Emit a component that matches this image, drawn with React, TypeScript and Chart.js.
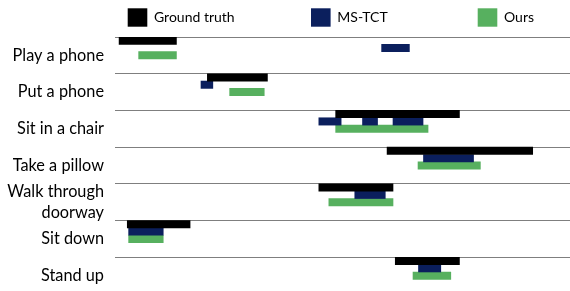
import React, { useEffect, useRef } from 'react';
import { Chart, registerables } from 'chart.js';

Chart.register(...registerables);

// ---- data ----
const categories = ['Play a phone', 'Put a phone', 'Sit in a chair', 'Take a pillow', 'Walk through doorway', 'Sit down', 'Stand up'];
const tickLabels: (string | string[])[] = ['Play a phone', 'Put a phone', 'Sit in a chair', 'Take a pillow', ['Walk through', 'doorway'], 'Sit down', 'Stand up'];
const seriesNames = ['Ground truth', 'MS-TCT', 'Ours'];
const seriesColors = ['#000000', '#0b1f5d', '#57b05f'];

// time spans (start, end) per category
const groundTruth: [number, number][] = [[0.9, 13.5], [20.3, 33.5], [48.5, 75.7], [59.8, 91.8], [44.8, 61.1], [2.7, 16.5], [61.6, 75.7]];
const msTctRows = ['Play a phone', 'Put a phone', 'Sit in a chair', 'Sit in a chair', 'Sit in a chair', 'Take a pillow', 'Walk through doorway', 'Sit down', 'Stand up'];
const msTctSpans: [number, number][] = [[58.6, 64.7], [18.9, 21.5], [44.8, 49.7], [54.4, 57.7], [61.1, 67.7], [67.8, 78.8], [52.7, 59.4], [3.0, 10.6], [66.7, 71.6]];
const ours: [number, number][] = [[5.2, 13.5], [25.2, 32.8], [48.5, 68.8], [66.6, 80.3], [47.0, 61.1], [3.0, 10.6], [65.5, 73.8]];
const timeMin = 0;
const timeMax = 100;

// ---- layout ----
const legendX = [127.7, 311, 477.7];

const legendPlugin = {
  id: 'seriesLegend',
  afterDraw(chart: any) {
    const ctx = chart.ctx;
    ctx.save();
    seriesNames.forEach((name, i) => {
      const x = legendX[i];
      ctx.fillStyle = seriesColors[i];
      ctx.fillRect(x, 8.3, 19.6, 18.4);
      ctx.fillStyle = '#000000';
      ctx.font = '14px Lato';
      ctx.textAlign = 'left';
      ctx.textBaseline = 'middle';
      ctx.fillText(name, x + 26.3, 17.8);
    });
    ctx.restore();
  },
};

export default function App() {
  const ref = useRef<HTMLCanvasElement | null>(null);

  useEffect(() => {
    if (!ref.current) return;
    const chart = new Chart(ref.current, {
      type: 'bar',
      data: {
        labels: categories,
        datasets: [
          { label: seriesNames[0], data: groundTruth as any, backgroundColor: seriesColors[0] },
          { label: seriesNames[1], data: msTctRows.map((r, i) => ({ y: r, x: msTctSpans[i] })) as any, backgroundColor: seriesColors[1] },
          { label: seriesNames[2], data: ours as any, backgroundColor: seriesColors[2] },
          { label: '', data: [], backgroundColor: 'rgba(0,0,0,0)' },
          { label: '', data: [], backgroundColor: 'rgba(0,0,0,0)' },
        ],
      },
      options: {
        indexAxis: 'y',
        responsive: true,
        maintainAspectRatio: false,
        animation: false,
        events: [],
        layout: { padding: { top: 37, right: 0, bottom: 0, left: 0 } },
        datasets: { bar: { categoryPercentage: 1, barPercentage: 1 } },
        scales: {
          x: { type: 'linear', min: timeMin, max: timeMax, display: false },
          y: {
            type: 'category',
            offset: true,
            grid: { offset: true, color: '#7f7f7f', lineWidth: 1, drawTicks: false },
            border: { display: false },
            ticks: {
              autoSkip: false,
              padding: 11,
              color: '#000000',
              font: { family: 'Lato', size: 16.3, lineHeight: 1.3 },
              callback: (_v: any, i: number) => tickLabels[i],
            },
            afterFit: (s: any) => { s.width = 115; s.paddingTop = 0; s.paddingBottom = 0; },
          },
        },
        plugins: { legend: { display: false }, tooltip: { enabled: false } },
      },
      plugins: [legendPlugin],
    } as any);
    return () => chart.destroy();
  }, []);

  return (
    <div style={{ position: 'fixed', left: 0, top: 0, width: 570, height: 291, overflow: 'hidden', background: '#ffffff' }}>
      <div style={{ position: 'relative', width: 570, height: 294 }}>
        <canvas ref={ref} />
      </div>
    </div>
  );
}
